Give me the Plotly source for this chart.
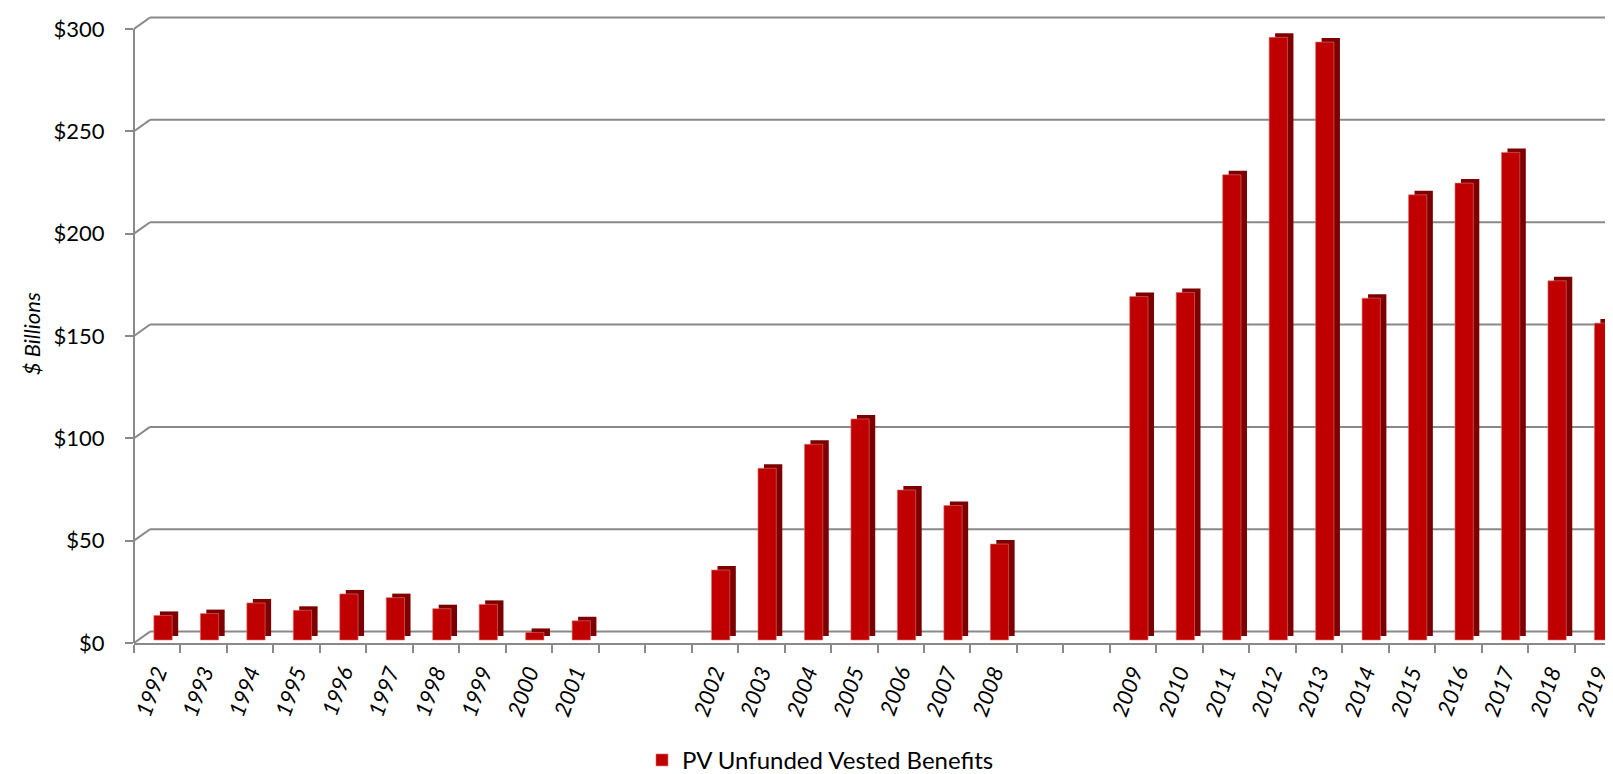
import plotly.graph_objects as go

# ---------------- data ----------------
categories = ["1992", "1993", "1994", "1995", "1996", "1997", "1998", "1999", "2000", "2001",
              " ", "  ",
              "2002", "2003", "2004", "2005", "2006", "2007", "2008",
              "   ", "    ",
              "2009", "2010", "2011", "2012", "2013", "2014", "2015", "2016", "2017", "2018", "2019"]
pv_unfunded_vested = [12.0, 12.9, 18.1, 14.5, 22.5, 20.7, 15.3, 17.4, 3.7, 9.4,
                      None, None,
                      34.2, 83.9, 95.6, 108.0, 73.3, 65.7, 46.9,
                      None, None,
                      167.8, 169.8, 227.3, 294.4, 292.1, 167.0, 217.5, 223.2, 238.2, 175.5, 154.8]
y_tick_values = [0, 50, 100, 150, 200, 250, 300]
y_tick_labels = ["$" + str(v) for v in y_tick_values]
series_name = "PV Unfunded Vested Benefits"
y_title = "$ Billions"

# ---------------- layout geometry (pixels) ----------------
W, H = 1613, 774
ML, MR, MT, MB = 126, 0, 5, 139.3
plot_w = W - ML - MR
plot_h = H - MT - MB
px_per_unit = 2.046          # pixels per $1B
front_to_base = 3.0          # front floor edge -> bar base
base_to_back = 8.4           # bar base -> back wall
wall_dx = 16                 # horizontal offset of back wall
depth_dx, depth_dy = 6, 4    # bar extrusion
slot_px = plot_w / len(categories)
bar_w = 0.394
front_off = -0.072
back_off = front_off + depth_dx / slot_px

y_lo = -front_to_base / px_per_unit
y_hi = (plot_h - front_to_base) / px_per_unit
back_shift = base_to_back / px_per_unit
front_shift = front_to_base / px_per_unit

GRID = "#898989"
FONT = "Lato"

fig = go.Figure()
# extruded back (side + top faces)
fig.add_trace(go.Bar(x=categories, y=pv_unfunded_vested, base=depth_dy / px_per_unit,
                     width=bar_w, offset=back_off, marker=dict(color="#7d0000", line=dict(width=0)),
                     showlegend=False, hoverinfo="skip"))
# front faces
fig.add_trace(go.Bar(x=categories, y=pv_unfunded_vested, name=series_name,
                     width=bar_w, offset=front_off,
                     marker=dict(color="#C00000", line=dict(width=0.6, color="#e07070"))))
# dummy trace to attach the front value axis
fig.add_trace(go.Scatter(x=[categories[0]], y=[None], yaxis="y2", showlegend=False,
                         hoverinfo="skip", mode="markers"))

shapes = [dict(type="line", xref="paper", yref="y2", x0=0, x1=0,
               y0=y_tick_values[0], y1=y_tick_values[-1], line=dict(color=GRID, width=2))]
for v in y_tick_values:
    shapes.append(dict(type="line", xref="paper", yref="y", x0=wall_dx / plot_w, x1=1,
                       y0=v + back_shift, y1=v + back_shift, line=dict(color=GRID, width=2),
                       layer="below"))
    shapes.append(dict(type="line", xref="paper", yref="y", x0=0, x1=wall_dx / plot_w,
                       y0=v - front_shift, y1=v + back_shift,
                       line=dict(color=GRID, width=2), layer="below"))

fig.update_layout(
    width=W, height=H,
    margin=dict(l=ML, r=MR, t=MT, b=MB, autoexpand=False),
    paper_bgcolor="white", plot_bgcolor="rgba(0,0,0,0)",
    barmode="overlay",
    font=dict(family=FONT, color="black"),
    shapes=shapes,
    annotations=[dict(text=y_title, xref="paper", yref="paper", x=(23 - ML) / plot_w,
                      y=(634.7 - 326) / plot_h, xanchor="center", yanchor="middle",
                      textangle=-90, showarrow=False,
                      font=dict(family=FONT, size=22, style="italic", color="black"))],
    xaxis=dict(type="category", categoryorder="array", categoryarray=categories,
               range=[-0.5, len(categories) - 0.5],
               showgrid=False, zeroline=False, automargin=False,
               showline=True, linecolor=GRID, linewidth=2,
               ticks="outside", tickson="boundaries", ticklen=8, tickwidth=2, tickcolor=GRID,
               tickangle=-70, tickfont=dict(family=FONT, size=22, style="italic"),
               ticklabelstandoff=6, fixedrange=True),
    yaxis=dict(range=[y_lo, y_hi], showgrid=False, zeroline=False, showticklabels=False,
               showline=False, ticks="", automargin=False, fixedrange=True),
    yaxis2=dict(overlaying="y", anchor="x", side="left",
                range=[y_lo + front_shift, y_hi + front_shift],
                tickmode="array", tickvals=y_tick_values, ticktext=y_tick_labels,
                showgrid=False, zeroline=False, showline=False, automargin=False,
                ticks="outside", ticklen=8, tickwidth=2, tickcolor=GRID,
                tickfont=dict(family=FONT, size=22), ticklabelstandoff=16,
                fixedrange=True),
    legend=dict(orientation="h", x=(634 - ML) / plot_w, xanchor="left",
                y=(634.7 - 752) / plot_h, yanchor="middle",
                font=dict(family=FONT, size=24), bgcolor="rgba(0,0,0,0)"),
    showlegend=True,
)

fig.write_html("out.html")
